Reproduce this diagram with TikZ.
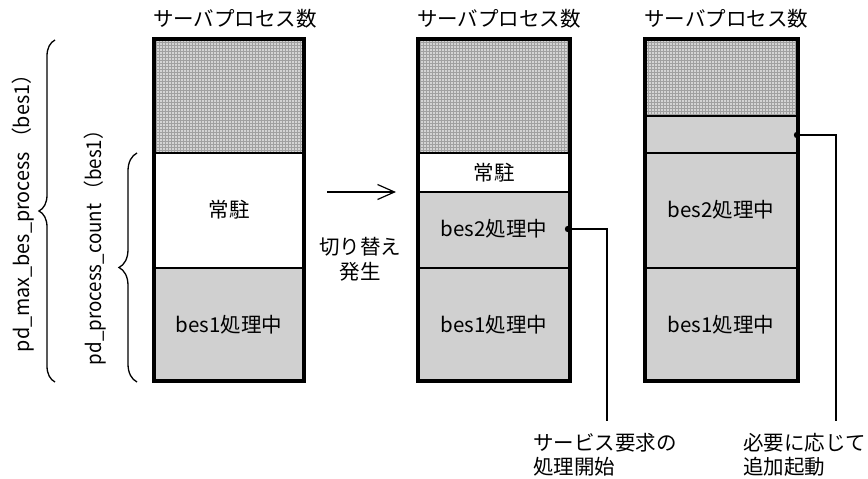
\documentclass[tikz,border=0pt]{standalone}
\usepackage{fontspec}
\setmainfont{Noto Sans CJK JP}
\usetikzlibrary{arrows.meta,decorations.pathreplacing}
\definecolor{procgray}{RGB}{208,208,208}
\definecolor{dotbg}{RGB}{212,212,212}
\definecolor{dotfg}{RGB}{160,160,160}
\begin{document}
\begin{tikzpicture}[x=1pt,y=-1pt,
  every node/.style={font=\fontsize{20.5}{24}\selectfont, inner sep=0pt},
  frame/.style={line width=4pt},
  divider/.style={line width=1.5pt},
  conn/.style={line width=1.2pt},
  bracestyle/.style={line width=1.3pt, decorate, decoration={brace, aspect=0.5}}]
\useasboundingbox (0,0) rectangle (868,479);

% ---------- box 1 ----------
\fill[dotbg] (154,39) rectangle (304,153);
\begin{scope}
  \clip (154,39) rectangle (304,153);
  \draw[dotfg, line width=0.8pt, step=3pt] (140,30) grid (320,160);
\end{scope}
\fill[white] (154,153) rectangle (304,268);
\fill[procgray] (154,268) rectangle (304,381);
\draw[divider] (154,153) -- (304,153);
\draw[divider] (154,268) -- (304,268);
\draw[frame] (154,39) rectangle (304,381);
\node (b1a) at (229,210) {常駐};
\node (b1b) at (229,325) {bes1処理中};
\node[anchor=west] (t1) at (153,19) {サーバプロセス数};

% ---------- box 2 ----------
\fill[dotbg] (418,39) rectangle (570,153);
\begin{scope}
  \clip (418,39) rectangle (570,153);
  \draw[dotfg, line width=0.8pt, step=3pt] (400,30) grid (580,160);
\end{scope}
\fill[white] (418,153) rectangle (570,192);
\fill[procgray] (418,192) rectangle (570,381);
\draw[divider] (418,153) -- (570,153);
\draw[divider] (418,192) -- (570,192);
\draw[divider] (418,268) -- (570,268);
\draw[frame] (418,39) rectangle (570,381);
\node (b2a) at (494,173) {常駐};
\node (b2b) at (494,229) {bes2処理中};
\node (b2c) at (494,325) {bes1処理中};
\node[anchor=west] (t2) at (417,19) {サーバプロセス数};

% ---------- box 3 ----------
\fill[dotbg] (645,39) rectangle (798,116);
\begin{scope}
  \clip (645,39) rectangle (798,116);
  \draw[dotfg, line width=0.8pt, step=3pt] (630,30) grid (810,120);
\end{scope}
\fill[procgray] (645,116) rectangle (798,381);
\draw[divider] (645,116) -- (798,116);
\draw[divider] (645,153) -- (798,153);
\draw[divider] (645,268) -- (798,268);
\draw[frame] (645,39) rectangle (798,381);
\node (b3b) at (721,210) {bes2処理中};
\node (b3c) at (721,325) {bes1処理中};
\node[anchor=west] (t3) at (644,19) {サーバプロセス数};

% ---------- switch arrow ----------
\coordinate (a0) at (327,192);
\coordinate (a1) at (396,192);
\draw[conn, -{Straight Barb[length=17pt,width=15pt,line width=1.2pt]}] (a0) -- (a1);
\node (sw1) at (360,247) {切り替え};
\node (sw2) at (360,272) {発生};

% ---------- connectors ----------
\coordinate (d1) at (568,229);
\coordinate (e1) at (607,421);
\fill (d1) circle (3.2pt);
\draw[conn] (d1) -| (e1);
\node[anchor=base west] (n1a) at (533,450.5) {サービス要求の};
\node[anchor=base west] (n1b) at (533,474.5) {処理開始};

\coordinate (d2) at (797,135);
\coordinate (e2) at (836,421);
\fill (d2) circle (3.2pt);
\draw[conn] (d2) -| (e2);
\node[anchor=base west] (n2a) at (743,450.5) {必要に応じて};
\node[anchor=base west] (n2b) at (743,474.5) {追加起動};

% ---------- braces ----------
\draw[bracestyle, decoration={amplitude=16pt}] (55,382) -- (55,40);
\draw[bracestyle, decoration={amplitude=18pt}] (137,382) -- (137,153);
\node[rotate=90] (pmax) at (23,208.5) {\resizebox{287pt}{\height}{pd\_max\_bes\_process （bes1）}};
\node[rotate=90] (pcnt) at (95,243) {\resizebox{244pt}{\height}{pd\_process\_count （bes1）}};
\end{tikzpicture}
\end{document}
